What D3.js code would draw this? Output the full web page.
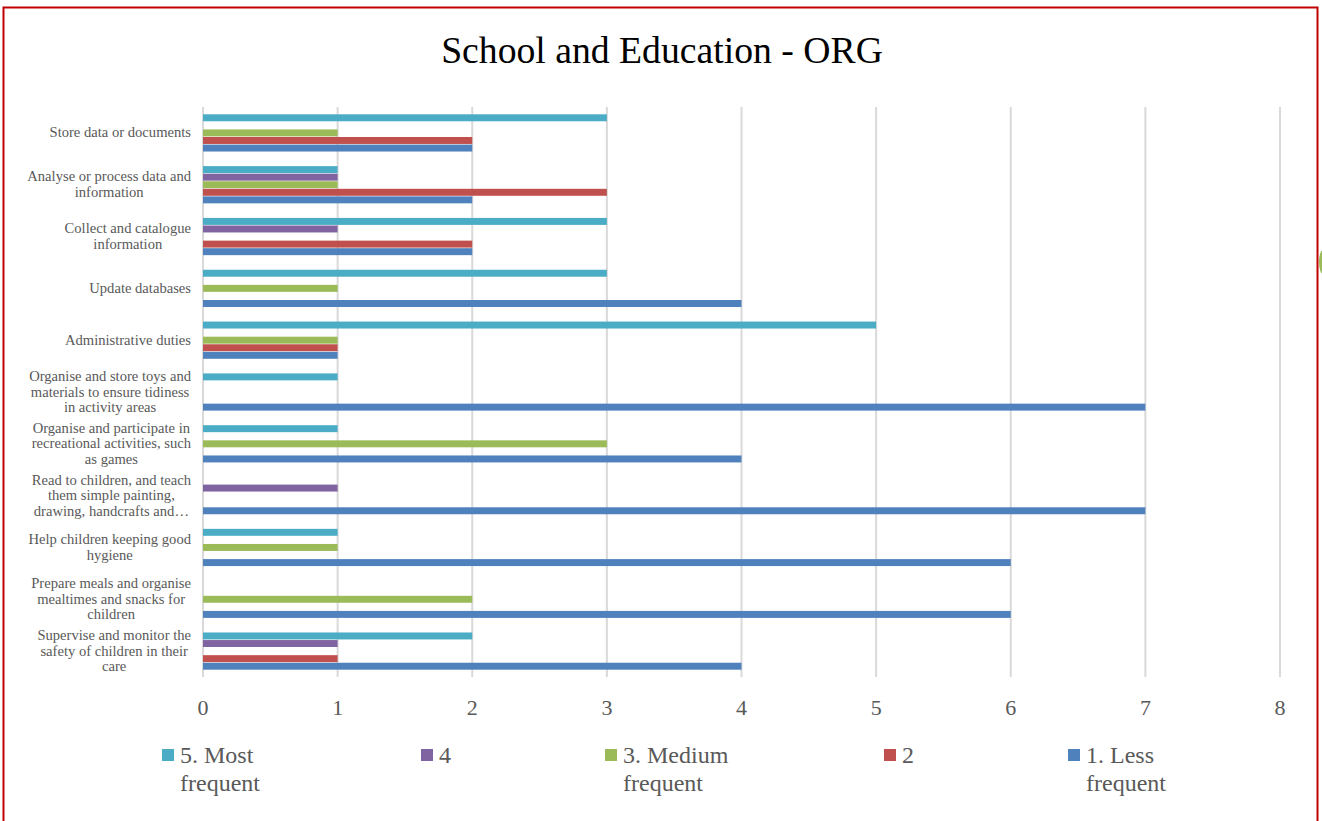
<!DOCTYPE html>
<html>
<head>
<meta charset="utf-8">
<script src="https://cdn.jsdelivr.net/npm/d3@7"></script>
<style>
  html, body { margin: 0; padding: 0; background: #fff; }
  svg { display: block; }
  text { font-family: "Liberation Serif", "DejaVu Serif", serif; }
</style>
</head>
<body>
<svg id="chart" width="1322" height="821"></svg>
<script>
// categories, top to bottom ("\n" marks the wrapped lines)
const categories = [
  "Store data or documents",
  "Analyse or process data and\ninformation",
  "Collect and catalogue\ninformation",
  "Update databases",
  "Administrative duties",
  "Organise and store toys and\nmaterials to ensure tidiness\nin activity areas",
  "Organise and participate in\nrecreational activities, such\nas games",
  "Read to children, and teach\nthem simple painting,\ndrawing, handcrafts and…",
  "Help children keeping good\nhygiene",
  "Prepare meals and organise\nmealtimes and snacks for\nchildren",
  "Supervise and monitor the\nsafety of children in their\ncare"
];

const seriesNames = ["5. Most\nfrequent", "4", "3. Medium\nfrequent", "2", "1. Less\nfrequent"];
const seriesColors = ["#4bacc6", "#8064a2", "#9bbb59", "#c0504d", "#4f81bd"];

const mostFrequent   = [3, 1, 3, 3, 5, 1, 1, 0, 1, 0, 2];
const level4         = [0, 1, 1, 0, 0, 0, 0, 1, 0, 0, 1];
const mediumFrequent = [1, 1, 0, 1, 1, 0, 3, 0, 1, 2, 0];
const level2         = [2, 3, 2, 0, 1, 0, 0, 0, 0, 0, 1];
const lessFrequent   = [2, 2, 2, 4, 1, 7, 4, 7, 6, 6, 4];

const xTicks = [0, 1, 2, 3, 4, 5, 6, 7, 8];
const title = "School and Education - ORG";

const seriesValues = [mostFrequent, level4, mediumFrequent, level2, lessFrequent];

const svg = d3.select("#chart");
const grey = "#595959";

// frame
svg.append("rect")
  .attr("x", 3.5).attr("y", 7.5)
  .attr("width", 1314).attr("height", 830)
  .attr("fill", "none")
  .attr("stroke", "#c00000")
  .attr("stroke-width", 2);

// little green handle on the right edge
svg.append("ellipse")
  .attr("cx", 1323).attr("cy", 262)
  .attr("rx", 4).attr("ry", 12)
  .attr("fill", "#9bbb59");

svg.append("text")
  .attr("x", 662).attr("y", 63)
  .attr("text-anchor", "middle")
  .attr("font-size", 37.7)
  .attr("fill", "#000")
  .text(title);

const plot = {left: 203, right: 1280, top: 107, bottom: 677};

const x = d3.scaleLinear().domain([0, 8]).range([plot.left, plot.right]);

const y0 = d3.scaleBand()
  .domain(d3.range(categories.length))
  .range([plot.top, plot.bottom])
  .paddingInner(0.27)
  .paddingOuter(0.135);

const y1 = d3.scaleBand()
  .domain(d3.range(seriesNames.length))
  .range([0, y0.bandwidth()]);

// grid
svg.append("g")
  .selectAll("line")
  .data(xTicks)
  .join("line")
  .attr("x1", d => x(d)).attr("x2", d => x(d))
  .attr("y1", plot.top).attr("y2", plot.bottom)
  .attr("stroke", "#d9d9d9")
  .attr("stroke-width", 2);

// bars
const groups = svg.append("g")
  .selectAll("g")
  .data(categories.map((c, i) => i))
  .join("g")
  .attr("transform", i => `translate(0,${y0(i)})`);

groups.selectAll("rect")
  .data(i => seriesValues.map((vals, s) => ({s, v: vals[i]})).filter(d => d.v > 0))
  .join("rect")
  .attr("x", x(0))
  .attr("y", d => y1(d.s) + 0.3)
  .attr("width", d => x(d.v) - x(0))
  .attr("height", y1.bandwidth() - 0.6)
  .attr("fill", d => seriesColors[d.s]);

// category labels
const lineH = 15.6;
svg.append("g")
  .selectAll("text")
  .data(categories)
  .join("text")
  .attr("text-anchor", "middle")
  .attr("font-size", 14.6)
  .attr("fill", grey)
  .each(function(d, i) {
    const lines = d.split("\n"),
          cy = y0(i) + y0.bandwidth() / 2,
          startY = cy - (lines.length - 1) * lineH / 2 + 4.5;
    const t = d3.select(this);
    lines.forEach((ln, k) => {
      t.append("tspan")
        .attr("x", 0)
        .attr("y", startY + k * lineH)
        .text(ln);
    });
    // right-align the block, centre each line inside it
    const w = d3.max(t.selectAll("tspan").nodes(), n => n.getComputedTextLength());
    t.selectAll("tspan").attr("x", 191 - w / 2);
  });

// x tick labels
svg.append("g")
  .selectAll("text")
  .data(xTicks)
  .join("text")
  .attr("x", d => x(d))
  .attr("y", 715)
  .attr("text-anchor", "middle")
  .attr("font-size", 22)
  .attr("fill", grey)
  .text(d => d);

// legend
const legendX = [162, 421, 605, 884, 1068];
const legend = svg.append("g")
  .selectAll("g")
  .data(seriesNames)
  .join("g")
  .attr("transform", (d, i) => `translate(${legendX[i]},749)`);

legend.append("rect")
  .attr("width", 12).attr("height", 12)
  .attr("fill", (d, i) => seriesColors[i]);

legend.append("text")
  .attr("font-size", 24)
  .attr("fill", grey)
  .each(function(d) {
    const t = d3.select(this);
    d.split("\n").forEach((ln, k) => {
      t.append("tspan").attr("x", 18).attr("y", 14 + k * 28).text(ln);
    });
  });
</script>
</body>
</html>
